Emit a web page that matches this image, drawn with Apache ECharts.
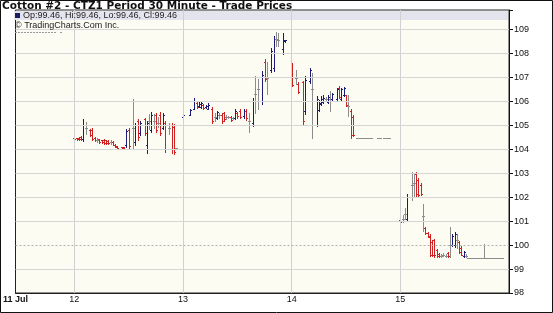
<!DOCTYPE html>
<html><head><meta charset="utf-8">
<script src="https://cdn.jsdelivr.net/npm/echarts@6/dist/echarts.min.js"></script>
<style>html,body{margin:0;padding:0;background:#fff}#c{width:553px;height:313px}</style>
</head><body><div id="c"></div><script>
const titleText = 'Cotton #2 - CTZ1 Period 30 Minute - Trade Prices';
const legendText = 'Op:99.46, Hi:99.46, Lo:99.46, Cl:99.46';
const sourceText = '\u00A9 TradingCharts.Com Inc.';
const xStart = 11.4583;   // 11 Jul 11:00
const xEnd = 16.0;
const dayTicks = [12, 13, 14, 15];
const firstLabel = '11 Jul';
const yTicks = [98, 99, 100, 101, 102, 103, 104, 105, 106, 107, 108, 109];
const prevClose = 100;
// bars: [half-hour slot of the day, open, high, low, close]
const jul12 = [
[0,104.48,104.52,104.38,104.42],[1,104.46,104.48,104.40,104.42],[2,104.48,104.50,104.38,104.42],
[3,104.50,104.55,104.38,104.42],[4,104.45,105.26,104.33,105.00],[5,104.90,105.14,104.66,104.90],
[7,104.80,104.83,104.57,104.60],[8,104.80,104.90,104.37,104.45],[9,104.48,104.51,104.33,104.38],
[10,104.38,104.47,104.29,104.38],[11,104.42,104.43,104.26,104.30],[12,104.38,104.41,104.26,104.30],
[13,104.40,104.43,104.23,104.28],[14,104.38,104.41,104.23,104.27],[15,104.36,104.40,104.21,104.25],
[16,104.30,104.37,104.23,104.30],[17,104.30,104.33,104.19,104.20],[18,104.20,104.21,104.09,104.10],
[19,104.12,104.14,104.04,104.06],[21,104.10,104.11,104.01,104.04],[22,104.08,104.11,104.01,104.03],
[23,104.20,104.83,104.11,104.75],[24,104.80,104.90,104.05,104.15],[26,104.90,106.09,104.04,104.90],
[27,104.30,105.10,104.19,105.00],[28,105.20,105.26,104.40,104.50],[29,104.70,105.20,104.60,105.10],
[31,105.25,105.33,104.60,104.70],[32,104.20,105.19,103.86,105.10],[33,105.20,105.47,104.83,105.20],
[34,104.80,105.54,104.71,105.45],[35,105.20,105.47,104.90,105.20],[36,105.45,105.51,104.71,104.80],
[37,105.10,105.37,104.94,105.10],[38,105.45,105.54,104.61,104.70],[39,104.90,105.51,104.83,105.45],
[40,105.10,105.19,103.90,104.00],[42,104.90,105.11,104.66,104.90],[43,105.00,105.11,103.86,104.00],
[44,104.95,105.04,103.80,103.90],[45,104.05,104.07,104.02,104.05]
];
const jul13 = [
[0,105.35,105.47,105.33,105.45],[3,105.45,105.68,105.43,105.65],[5,105.70,106.13,105.68,106.00],
[6,105.95,105.99,105.71,105.75],[7,105.80,105.96,105.75,105.90],[8,105.75,105.99,105.71,105.95],
[9,105.85,105.89,105.68,105.72],[10,105.76,105.85,105.74,105.82],[11,105.70,105.93,105.68,105.85],
[13,105.70,105.75,105.09,105.20],[14,105.35,105.51,105.19,105.35],[15,105.30,105.61,105.26,105.55],
[16,105.42,105.51,105.33,105.42],[17,105.45,105.51,105.12,105.20],[18,105.50,105.57,105.19,105.25],
[19,105.35,105.43,105.26,105.35],[20,105.35,105.40,105.31,105.35],[21,105.35,105.40,105.19,105.22],
[22,105.30,105.35,105.28,105.30],[23,105.30,105.68,105.26,105.60],[24,105.52,105.57,105.33,105.38],
[25,105.60,105.68,105.29,105.35],[27,105.38,105.68,105.33,105.60],[28,105.60,105.68,105.23,105.30],
[29,105.20,105.51,104.73,105.20],[31,105.10,106.13,104.98,106.00],[32,106.30,107.08,105.51,106.30],
[33,106.50,106.94,105.68,106.50],[35,106.00,107.28,105.89,107.10],[36,107.65,107.77,106.87,106.95],
[37,107.00,107.63,106.31,107.00],[39,107.30,108.22,107.21,108.10],[40,107.40,108.75,107.28,108.60],
[41,108.60,108.89,108.33,108.60],[42,108.55,108.86,108.30,108.55],[44,108.20,108.86,107.98,108.55],
[45,108.52,108.58,108.50,108.55]
];
const jul14 = [
[0,107.50,107.61,106.64,106.70],[2,107.00,107.33,106.71,107.00],[3,106.75,106.81,106.36,106.40],
[5,106.80,106.85,105.04,105.20],[6,105.60,107.06,105.46,106.90],[8,106.85,107.40,106.78,107.30],
[9,106.50,107.19,104.49,106.50],[11,105.00,106.22,104.97,106.10],[12,105.65,106.08,105.60,105.95],
[13,105.90,106.22,105.87,106.10],[14,105.98,106.25,105.94,106.15],[15,106.10,106.19,106.00,106.10],
[16,105.98,106.29,105.94,106.20],[17,106.10,106.43,105.60,106.10],[18,106.10,106.36,106.08,106.30],
[20,106.12,106.57,106.08,106.50],[21,106.58,106.64,106.15,106.20],[22,106.12,106.57,106.08,106.50],
[23,106.25,106.61,106.22,106.55],[24,106.25,106.29,105.80,105.85],[25,105.80,106.29,105.39,105.80],
[26,105.60,105.67,104.49,104.60],[27,105.35,105.42,104.56,104.60],
[29,104.49,104.49,104.49,104.49],[30,104.49,104.49,104.49,104.49],[31,104.49,104.49,104.49,104.49],
[32,104.49,104.49,104.49,104.49],[33,104.49,104.49,104.49,104.49],[34,104.49,104.49,104.49,104.49],
[35,104.49,104.49,104.49,104.49],[38,104.49,104.49,104.49,104.49],[39,104.49,104.49,104.49,104.49],
[41,104.49,104.49,104.49,104.49],[42,104.49,104.49,104.49,104.49],[43,104.49,104.49,104.49,104.49]
];
const jul15 = [
[0,101.05,101.10,100.93,100.97],[1,101.10,101.24,100.96,101.10],[2,101.30,101.55,101.10,101.30],
[3,101.10,102.15,100.99,102.00],[5,102.50,103.07,101.87,102.50],[6,102.60,103.00,102.00,102.60],
[7,102.95,103.07,102.06,102.15],[8,102.70,102.79,102.06,102.10],[9,102.50,102.58,102.08,102.12],
[10,101.20,101.73,100.61,101.20],[11,100.70,100.75,100.46,100.50],[12,100.50,100.55,100.32,100.35],
[13,100.40,100.46,99.55,99.60],[14,100.15,100.22,99.55,99.60],[15,100.20,100.25,99.52,99.60],
[16,99.80,99.83,99.52,99.55],[17,99.62,99.66,99.52,99.55],[18,99.56,99.62,99.52,99.56],
[19,99.60,99.66,99.55,99.60],[20,99.56,99.62,99.52,99.56],[21,99.66,99.70,99.52,99.55],
[22,100.00,100.75,99.52,100.00],[23,100.00,100.46,99.97,100.40],[24,100.00,100.54,99.94,100.45],
[25,100.20,100.46,99.86,100.20],[26,100.12,100.18,99.66,99.70],[27,99.90,99.97,99.58,99.60],
[28,99.55,99.76,99.52,99.70],[29,99.56,99.62,99.52,99.56],
[30,99.46,99.46,99.46,99.46],[31,99.46,99.46,99.46,99.46],[32,99.46,99.46,99.46,99.46],
[33,99.46,99.46,99.46,99.46],[34,99.46,99.46,99.46,99.46],[35,99.46,99.46,99.46,99.46],
[36,99.46,99.46,99.46,99.46],[37,99.46,100.04,99.46,99.46],[38,99.46,99.46,99.46,99.46],
[39,99.46,99.46,99.46,99.46],[40,99.46,99.46,99.46,99.46],[41,99.46,99.46,99.46,99.46],
[42,99.46,99.46,99.46,99.46],[43,99.46,99.46,99.46,99.46],[44,99.46,99.46,99.46,99.46],
[45,99.46,99.46,99.46,99.46]
];
const days = [[12, jul12], [13, jul13], [14, jul14], [15, jul15]];

const UP = '#1c1c78', DOWN = '#d02020', FLAT = '#8c8c8c';
const FONT = 'Liberation Sans, Arial, sans-serif';

const data = [];
days.forEach(([d, bars]) => bars.forEach(b => data.push([d + b[0] / 48, b[1], b[2], b[3], b[4]])));

function renderItem(params, api) {
  const x = api.value(0), o = api.value(1), h = api.value(2), l = api.value(3), c = api.value(4);
  const pH = api.coord([x, h]), pL = api.coord([x, l]);
  const yO = Math.round(api.coord([x, o])[1]) + 0.5;
  const yC = Math.round(api.coord([x, c])[1]) + 0.5;
  const px = Math.round(pH[0]);
  const cx = px + 0.5;
  const color = c > o ? UP : (c < o ? DOWN : FLAT);
  const st = { stroke: color, lineWidth: 1 };
  const yt = Math.round(pH[1]), yb = Math.round(pL[1]);
  const children = [];
  if (yb > yt) children.push({ type: 'line', shape: { x1: cx, y1: yt, x2: cx, y2: yb + 1 }, style: st });
  children.push({ type: 'line', shape: { x1: px - 1, y1: yO, x2: px + 1, y2: yO }, style: st });
  children.push({ type: 'line', shape: { x1: px, y1: yC, x2: px + 2, y2: yC }, style: st });
  return { type: 'group', children };
}

const gridLines = [];
dayTicks.forEach(d => gridLines.push({ xAxis: d, lineStyle: { color: '#d0d0d0', type: 'solid', width: 1 } }));
yTicks.forEach(v => { if (v > 98) gridLines.push({ yAxis: v, lineStyle: v === prevClose ? { color: '#b0b0b0', type: [2, 2], width: 1 } : { color: '#d6d6d6', type: 'solid', width: 1 } }); });

const chart = echarts.init(document.getElementById('c'), null, { renderer: 'canvas' });
chart.setOption({
  animation: false,
  backgroundColor: '#ffffff',
  grid: { left: 13, right: 44, top: 10, bottom: 20, show: true, backgroundColor: '#fcfcf2', borderColor: '#222', borderWidth: 1 },
  xAxis: {
    type: 'value', min: xStart, max: xEnd,
    axisLine: { show: true, lineStyle: { color: '#222' } },
    axisTick: { show: false },
    splitLine: { show: false },
    axisLabel: {
      customValues: [xStart].concat(dayTicks),
      margin: 2, fontSize: 9, color: '#111', fontFamily: FONT,
      formatter: v => v < 12 ? '{b|' + firstLabel + '}' : String(Math.round(v)),
      rich: { b: { fontWeight: 'bold', fontSize: 9, fontFamily: FONT, color: '#111' } }
    }
  },
  yAxis: {
    type: 'value', position: 'right', min: 98, max: 109.82, interval: 1,
    axisLine: { show: true, lineStyle: { color: '#111' } },
    axisTick: { show: true, length: 4, lineStyle: { color: '#111' } },
    splitLine: { show: false },
    axisLabel: {
      margin: 5, fontSize: 9, color: '#111', fontFamily: FONT,
      formatter: v => Math.abs(v - Math.round(v)) < 1e-6 ? String(Math.round(v)) : ''
    }
  },
  series: [
    {
      type: 'line', data: [], z: 1, silent: true,
      markLine: { silent: true, symbol: ['none', 'none'], label: { show: false }, animation: false, data: gridLines }
    },
    {
      type: 'custom', z: 3, renderItem, data, encode: { x: 0, y: [1, 2, 3, 4] }
    }
  ],
  graphic: [
    { type: 'rect', left: 14, top: 11, shape: { width: 494, height: 9 }, style: { fill: '#e4e4ee' }, z: 5, silent: true },
    { type: 'rect', left: 15, top: 13, shape: { width: 5, height: 5 }, style: { fill: '#1c1c60' }, z: 6 },
    { type: 'text', left: 23, top: 11, style: { text: legendText, font: '9px ' + FONT, fill: '#222' }, z: 6 },
    { type: 'text', left: 15, top: 21, style: { text: sourceText, font: '9px ' + FONT, fill: '#222' }, z: 6 },
    { type: 'line', shape: { x1: 15, y1: 32.5, x2: 56, y2: 32.5 }, style: { stroke: '#999', lineWidth: 1, lineDash: [2, 1] }, z: 6 },
    { type: 'line', shape: { x1: 60, y1: 32.5, x2: 62, y2: 32.5 }, style: { stroke: '#999', lineWidth: 1 }, z: 6 },
    { type: 'text', style: { x: 2, y: 12, text: titleText, font: 'bold 10.5px "DejaVu Sans", sans-serif', fill: '#111', verticalAlign: 'bottom' }, z: 6 },
    { type: 'rect', shape: { x: 0.5, y: 0.5, width: 552, height: 312 }, style: { fill: 'none', stroke: '#111', lineWidth: 1 }, z: 7, silent: true }
  ]
});
</script></body></html>
